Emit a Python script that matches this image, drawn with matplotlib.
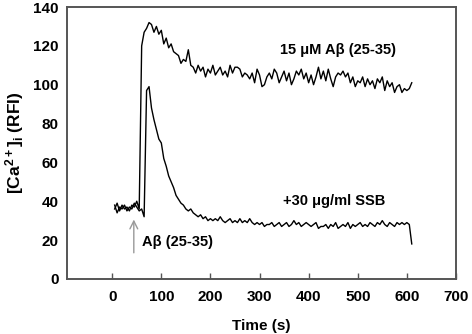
import numpy as np
import matplotlib
matplotlib.use("Agg")
import matplotlib.pyplot as plt

plt.rcParams['font.family'] = ['Liberation Sans', 'DejaVu Sans']
plt.rcParams['mathtext.fontset'] = 'custom'
plt.rcParams['mathtext.bf'] = 'Liberation Sans:bold'
plt.rcParams['mathtext.rm'] = 'Liberation Sans:bold'
plt.rcParams['mathtext.default'] = 'bf'

# time axis (s), sampled every 5 s
time_s = list(range(5, 615, 5))

# 15 uM Abeta (25-35)
abeta = [36, 39, 35, 38, 36, 37, 35, 38, 37, 40,
         36, 120, 127, 129, 132, 131, 127, 130, 126, 128,
         121, 124, 119, 121, 117, 116, 115, 111, 113, 112,
         118, 110, 109, 106, 110, 107, 109, 104, 108, 106,
         110, 105, 107, 109, 105, 107, 104, 110, 106, 109,
         109, 108, 104, 106, 105, 103, 106, 101, 108, 105,
         99, 100, 104, 106, 103, 108, 106, 101, 104, 107,
         102, 106, 100, 103, 107, 105, 108, 103, 106, 101,
         105, 100, 104, 109, 103, 107, 102, 108, 103, 99,
         104, 106, 105, 107, 104, 106, 101, 104, 99, 102,
         101, 104, 99, 103, 100, 102, 98, 103, 101, 104,
         97, 102, 99, 101, 96, 99, 100, 96, 98, 97,
         98, 101]

# +30 ug/ml SSB
ssb = [38, 34, 37, 36, 38, 35, 37, 36, 39, 37,
       35, 36, 32, 97, 99, 88, 82, 77, 72, 70,
       62, 58, 53, 50, 47, 43, 41, 39, 38, 36,
       35, 36, 34, 33, 32, 33, 31, 32, 30, 31,
       30, 31, 30, 32, 30, 29, 30, 31, 29, 30,
       29, 31, 29, 30, 29, 31, 29, 28, 29, 28,
       29, 27, 28, 28, 29, 27, 28, 29, 27, 28,
       29, 27, 28, 30, 28, 29, 27, 28, 29, 28,
       27, 28, 29, 26, 27, 27, 28, 26, 28, 27,
       29, 26, 27, 28, 27, 29, 26, 28, 27, 28,
       29, 27, 28, 27, 29, 28, 27, 29, 28, 30,
       28, 27, 29, 28, 27, 29, 28, 29, 28, 29,
       28, 18]

x_ticks = [0, 100, 200, 300, 400, 500, 600, 700]
y_ticks = [0, 20, 40, 60, 80, 100, 120, 140]

fig = plt.figure(figsize=(4.72, 3.34), dpi=100)
ax = fig.add_axes([0.142, 0.165, 0.824, 0.814])

ax.plot(time_s, abeta, color='black', lw=1.0)
ax.plot(time_s, ssb, color='black', lw=1.0)

ax.set_xlim(-92, 700)
ax.set_ylim(0, 140)
ax.set_xticks(x_ticks)
ax.set_yticks(y_ticks)
ax.tick_params(axis='x', direction='in', length=4, width=1, color='#555555',
               labelsize=11, pad=8)
ax.tick_params(axis='y', length=0, labelsize=11, pad=6)
for lab in ax.get_xticklabels() + ax.get_yticklabels():
    lab.set_fontweight('bold')
for sp in ax.spines.values():
    sp.set_color('#555555')
    sp.set_linewidth(1.4)

ax.set_xlabel('Time (s)', fontsize=11, fontweight='bold', labelpad=11)
ax.set_ylabel(r'[Ca$^{2+}$]$_{i}$ (RFI)', fontsize=12.5,
              fontweight='bold', labelpad=5)

ax.annotate('', xy=(44, 32), xytext=(44, 12),
            arrowprops=dict(arrowstyle='->', color='#999999', lw=1.0,
                            mutation_scale=14))
ax.text(60, 19, 'A\u03b2 (25-35)', fontsize=10.5, fontweight='bold', va='center')
ax.text(342, 118, '15 \u03bcM A\u03b2 (25-35)', fontsize=10.5, fontweight='bold',
        va='center')
ax.text(348, 40, '+30 \u03bcg/ml SSB', fontsize=10.5, fontweight='bold',
        va='center')

fig.savefig('out.png', dpi=100)
